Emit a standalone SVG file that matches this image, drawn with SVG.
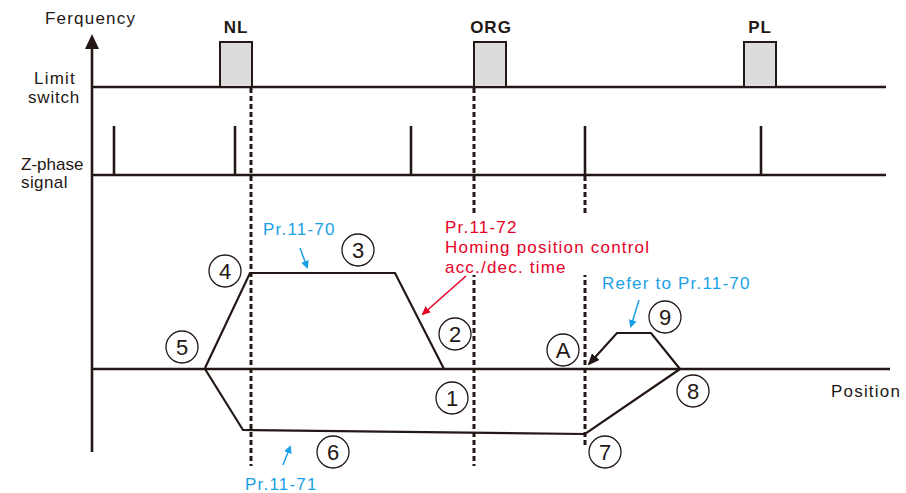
<svg xmlns="http://www.w3.org/2000/svg" width="906" height="493" viewBox="0 0 906 493">
<style>
.ln{stroke:#231815;stroke-width:2.6;fill:none}
.tr{stroke:#231815;stroke-width:2.2;fill:none;stroke-linejoin:miter}
.ds{stroke:#231815;stroke-width:3;stroke-dasharray:5,3;fill:none}
.bx{fill:#dcdcdc;stroke:#231815;stroke-width:2}
.cc{fill:#fff;stroke:#231815;stroke-width:1.3}
text{font-family:"Liberation Sans",Arial,sans-serif;font-size:17px;letter-spacing:1.2px}
.t{fill:#231815}
.b{font-weight:bold;fill:#231815;letter-spacing:1px}
.n{font-size:22px;fill:#231815;text-anchor:middle;letter-spacing:0}
.bl{fill:#1aa0e6}
.rd{fill:#e60026}
.ba{stroke:#1aa0e6;stroke-width:1.5;fill:none}
.ra{stroke:#e60026;stroke-width:1.5;fill:none}
</style>
<defs>
<marker id="mb" markerWidth="8" markerHeight="8" refX="6" refY="4" orient="auto" markerUnits="userSpaceOnUse"><path d="M0,0 L8,4 L0,8 z" fill="#1aa0e6"/></marker>
<marker id="mr" markerWidth="9" markerHeight="8" refX="7" refY="4" orient="auto" markerUnits="userSpaceOnUse"><path d="M0,0 L9,4 L0,8 z" fill="#e60026"/></marker>
<marker id="mk" markerWidth="12" markerHeight="10" refX="10" refY="5" orient="auto" markerUnits="userSpaceOnUse"><path d="M0,0 L12,5 L0,10 z" fill="#231815"/></marker>
</defs>

<g id="axes">
<line class="ln" x1="92" y1="46" x2="92" y2="452"/>
<path d="M92,34 L99,49 L85,49 z" fill="#231815"/>
<line class="ln" x1="92" y1="87" x2="886" y2="87"/>
<line class="ln" x1="92" y1="175" x2="886" y2="175"/>
<line class="ln" x1="92" y1="369" x2="890" y2="369"/>
</g>

<g id="limit-boxes">
<rect class="bx" x="220" y="42" width="32" height="45"/>
<rect class="bx" x="474" y="42" width="32" height="45"/>
<rect class="bx" x="744" y="42" width="32" height="45"/>
</g>

<g id="z-pulses">
<line class="ln" x1="114" y1="126" x2="114" y2="175"/>
<line class="ln" x1="235" y1="126" x2="235" y2="175"/>
<line class="ln" x1="411" y1="126" x2="411" y2="175"/>
<line class="ln" x1="585" y1="126" x2="585" y2="175"/>
<line class="ln" x1="761" y1="126" x2="761" y2="175"/>
</g>

<g id="connectors">
<line class="ds" x1="251" y1="88" x2="251" y2="466"/>
<line class="ds" x1="474" y1="88" x2="474" y2="466"/>
<line class="ds" x1="585" y1="176" x2="585" y2="448"/>
<polyline class="tr" points="205,368 250,273 395,273 444,369"/>
<polyline class="tr" points="205,369 243,430 585,434 680,369"/>
<polyline class="tr" points="680,369 651,333 617,333 589,364" marker-end="url(#mk)"/>
<line class="ba" x1="300" y1="248" x2="307" y2="267" marker-end="url(#mb)"/>
<line class="ra" x1="466" y1="276" x2="423" y2="314" marker-end="url(#mr)"/>
<line class="ba" x1="639" y1="300" x2="631" y2="326" marker-end="url(#mb)"/>
<line class="ba" x1="283" y1="465" x2="290" y2="447" marker-end="url(#mb)"/>
</g>

<g id="labels">
<text class="t" x="45" y="24">Ferquency</text>
<text class="b" x="236" y="33" text-anchor="middle">NL</text>
<text class="b" x="491" y="33" text-anchor="middle">ORG</text>
<text class="b" x="760" y="33" text-anchor="middle">PL</text>
<text class="t" x="34" y="84">Limit</text>
<text class="t" x="28" y="103" style="letter-spacing:0.8px">switch</text>
<text class="t" x="21" y="170" style="letter-spacing:0">Z-phase</text>
<text class="t" x="21" y="188" style="letter-spacing:0.4px">signal</text>
<text class="t" x="831" y="397">Position</text>
<text class="bl" x="263" y="235">Pr.11-70</text>
<g id="note-72">
<rect x="438" y="214" width="220" height="61" fill="#fff"/>
<text class="rd" x="445" y="233">Pr.11-72</text>
<text class="rd" x="445" y="253">Homing position control</text>
<text class="rd" x="445" y="273">acc./dec. time</text>
</g>
<text class="bl" x="602" y="289">Refer to Pr.11-70</text>
<text class="bl" x="245" y="490">Pr.11-71</text>
</g>

<g id="n4"><circle class="cc" cx="225" cy="271" r="16"/><text class="n" x="225" y="279">4</text></g>
<g id="n3"><circle class="cc" cx="358" cy="250" r="16"/><text class="n" x="358" y="258">3</text></g>
<g id="n2"><circle class="cc" cx="455" cy="334" r="16"/><text class="n" x="455" y="342">2</text></g>
<g id="n5"><circle class="cc" cx="182" cy="347" r="16"/><text class="n" x="182" y="355">5</text></g>
<g id="n1"><circle class="cc" cx="452" cy="398" r="16"/><text class="n" x="452" y="406">1</text></g>
<g id="n6"><circle class="cc" cx="333" cy="452" r="16"/><text class="n" x="333" y="460">6</text></g>
<g id="n7"><circle class="cc" cx="605" cy="452" r="16"/><text class="n" x="605" y="460">7</text></g>
<g id="n8"><circle class="cc" cx="693" cy="391" r="16"/><text class="n" x="693" y="399">8</text></g>
<g id="n9"><circle class="cc" cx="665" cy="317" r="16"/><text class="n" x="665" y="325">9</text></g>
<g id="nA"><circle class="cc" cx="563" cy="350" r="16"/><text class="n" x="563" y="358">A</text></g>
</svg>
